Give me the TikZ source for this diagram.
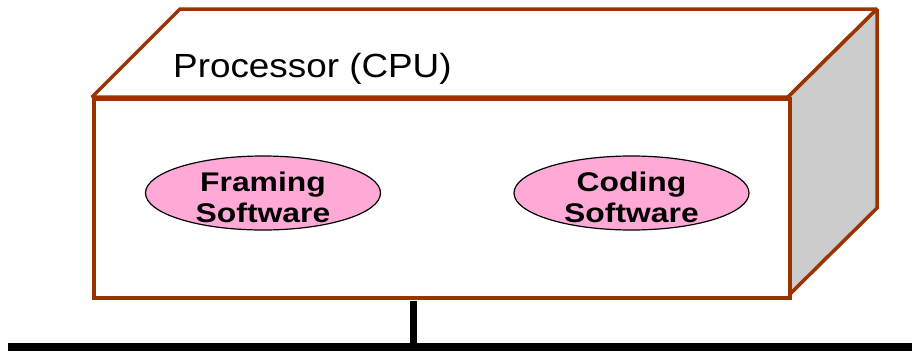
\documentclass[tikz,border=0pt]{standalone}
\usepackage{fontspec}
\setmainfont{Liberation Sans}
\newfontfamily\titlefont[FakeStretch=1.1]{Liberation Sans}
\newfontfamily\ellfont[FakeStretch=1.18]{Liberation Sans}
\usetikzlibrary{shapes.geometric}
\definecolor{frame}{RGB}{153,51,0}
\definecolor{sidegray}{RGB}{204,204,204}
\definecolor{pinkfill}{RGB}{255,170,214}
\tikzset{
  edge/.style={draw=frame, line width=3.5pt, line join=miter, miter limit=1.5},
  soft/.style={ellipse, draw=black, line width=1.2pt, fill=pinkfill,
    minimum width=235pt, minimum height=74pt, inner sep=0pt},
  softtext/.style={inner sep=0pt, align=center,
    font=\ellfont\fontsize{27}{31}\selectfont\bfseries},
  wire/.style={draw=black, line width=7.5pt},
}
\begin{document}
\begin{tikzpicture}[x=1pt,y=-1pt]
\useasboundingbox (0,0) rectangle (912,351);
% top face
\draw[edge, fill=white] (92,97) -- (180,9) -- (877,9) -- (788,97) -- cycle;
% right face
\draw[edge, fill=sidegray] (788,97) -- (877,9) -- (877,208) -- (788,296) -- cycle;
% front face
\node[edge, fill=white, rectangle, minimum width=696pt, minimum height=199pt, inner sep=0pt, anchor=north west] (front) at (92,97) {};
\node[anchor=base west, inner sep=0pt, font=\titlefont\fontsize{33.5}{40}\selectfont] (cpu) at (173,77) {Processor (CPU)};
\node[soft] (framing) at (263,193) {};
\node[softtext] (framingtext) at (263,197) {Framing\\Software};
\node[soft] (coding) at (631.5,193) {};
\node[softtext] (codingtext) at (631.5,197) {Coding\\Software};
% bus
\coordinate (busL) at (8,347);
\coordinate (busR) at (912,347);
\coordinate (tap) at (413,347);
\draw[wire] (busL) -- (busR);
\draw[draw=black, line width=7pt] (front.south -| tap) ++(0,1.5) -- (413,343);
\end{tikzpicture}
\end{document}
